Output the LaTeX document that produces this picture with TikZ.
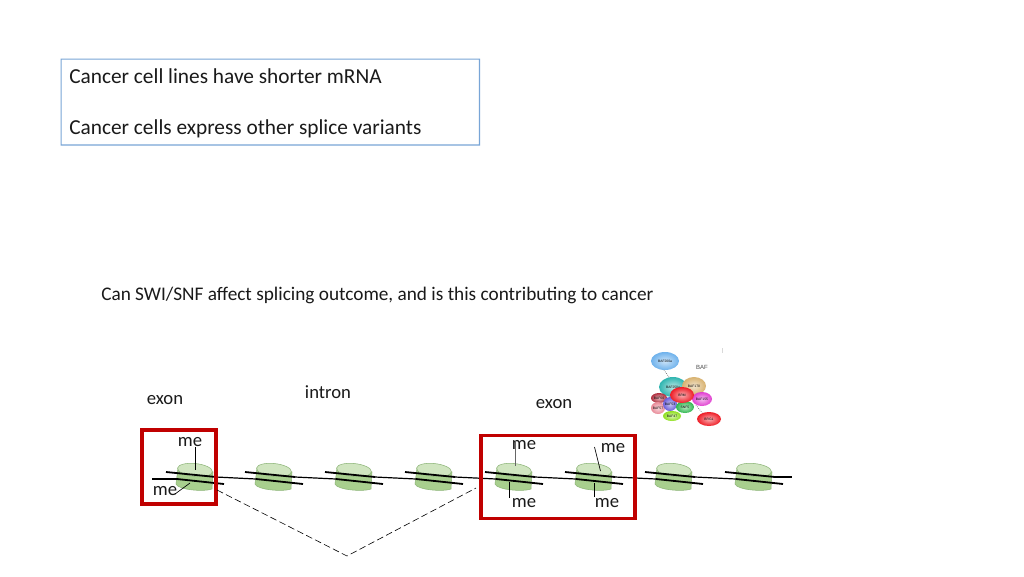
\documentclass[tikz,border=0pt]{standalone}
\usepackage{fontspec}
\setmainfont{Carlito}
\newfontfamily\tinyfont{Liberation Sans}
\usetikzlibrary{shapes.geometric}
\definecolor{framecol}{RGB}{120,165,215}
\definecolor{nucbody}{HTML}{A8CF8E}
\definecolor{nuctop}{HTML}{D0E5C0}
\definecolor{nucedge}{HTML}{8DB578}
\definecolor{boxred}{HTML}{C00000}
\definecolor{inktext}{HTML}{1A1A1A}
\definecolor{cb}{HTML}{6FB2EC}
\definecolor{cc}{HTML}{2FB5B0}
\definecolor{cd}{HTML}{D8B270}
\definecolor{ce}{HTML}{B03040}
\definecolor{cf}{HTML}{E88A98}
\definecolor{cg}{HTML}{6A5FD8}
\definecolor{ch}{HTML}{30B850}
\definecolor{ci}{HTML}{E040D0}
\definecolor{cj}{HTML}{90E020}
\definecolor{ck}{HTML}{EE1C25}
\tikzset{
  x=0.75pt,y=-0.75pt,
  txt/.style={inner sep=0pt,font=\fontsize{16}{18}\selectfont,text=inktext},
  me/.style={inner sep=0pt,font=\fontsize{14}{16}\selectfont,text=inktext},
  redbox/.style={draw=boxred,line width=2.3pt},
  strand/.style={draw=black,line width=1.35pt},
  linker/.style={draw=black,line width=0.9pt},
  tick/.style={draw=black,line width=0.5pt},
}
\newcommand{\bafnode}[7]{% name, x, y, rx, ry, colour, text
  \shade[inner color=#6!35!white,outer color=#6] (#2,#3) ellipse [x radius=#4, y radius=#5];
  \node[inner sep=0pt,font=\tinyfont\fontsize{2.5}{3}\selectfont] (#1) at (#2,#3) {#7};
}
\begin{document}
\begin{tikzpicture}
\useasboundingbox (0,0) rectangle (1024,576);
\fill[white] (0,0) rectangle (1024,576);

% top text box
\fill[framecol,even odd rule] (60.5,58.5) rectangle (480,145.5) (61.7,59.7) rectangle (478.8,144.3);
\node[rectangle,minimum width=313.5pt,minimum height=64.5pt,inner sep=0pt] (topbox) at (270,102) {};
\node[txt,anchor=base west] (t1) at (69,83) {Cancer cell lines have shorter mRNA};
\node[txt,anchor=base west] (t2) at (69,134) {Cancer cells express other splice variants};
\node[txt,anchor=base west,font=\fontsize{14.45}{16}\selectfont] (q) at (101,300) {Can SWI/SNF affect splicing outcome, and is this contributing to cancer};

% labels
\node[me,anchor=base] (ex1) at (165,404) {exon};
\node[me,anchor=base] (int) at (328,398) {intron};
\node[me,anchor=base] (ex2) at (554,408) {exon};

% nucleosomes
\foreach \n/\c in {1/195,2/274,3/354,4/434,5/514,6/594,7/674,8/754}{
  \begin{scope}[shift={(\c,0)}]
    \coordinate (up\n w) at (-29,472);
    \coordinate (up\n e) at (21,477);
    \coordinate (lo\n w) at (-18,479);
    \coordinate (lo\n e) at (29,484);
    \fill[nucbody,draw=nucedge,line width=0.4pt]
      (-17,468) -- (-19,484) .. controls (-17,490) and (10,492) .. (17,489)
      -- (18,472) -- cycle;
    \fill[nuctop,draw=nucedge,line width=0.4pt,rotate around={-6:(0,470)}]
      (0,470) ellipse [x radius=17.5, y radius=6.5];
  \end{scope}
}
% DNA
\coordinate (startdna) at (152,479);
\coordinate (enddna) at (792,477);
\foreach \n in {1,...,8}{
  \draw[strand] (up\n w) -- (up\n e);
  \draw[strand] (lo\n w) -- (lo\n e);
}
\draw[linker] (startdna) -- (lo1w);
\foreach \a/\b in {1/2,2/3,3/4,4/5,5/6,6/7,7/8}{
  \draw[linker] (up\a e) -- (lo\b w);
}
\draw[linker] (up8e) -- (enddna);

% red boxes
\node[redbox,minimum width=55.5pt,minimum height=55.5pt,inner sep=0pt] (rb1) at (179,467) {};
\node[redbox,minimum width=115.5pt,minimum height=62.5pt,inner sep=0pt] (rb2) at (558,477) {};

% me labels
\node[me,anchor=base] (m1) at (190,446) {me};
\node[me,anchor=base] (m2) at (165,495) {me};
\node[me,anchor=base] (m3) at (524,449) {me};
\node[me,anchor=base] (m4) at (613,452) {me};
\node[me,anchor=base] (m5) at (524,507) {me};
\node[me,anchor=base] (m6) at (607,507) {me};
\coordinate (m1a) at (195.5,447);
\coordinate (m2a) at (175,494);
\coordinate (m3a) at (515.5,441);
\coordinate (m4a) at (594.5,447);
\coordinate (m5a) at (509.5,498);
\coordinate (m6a) at (594,497);
\draw[tick] (m1a) -- (195.5,470);
\draw[tick] (m2a) -- (190,483);
\draw[tick,draw=black!60,line width=0.8pt] (m3a) -- (515.5,466);
\draw[tick] (m4a) -- (600.5,471);
\draw[tick] (m5a) -- (509.5,482);
\draw[tick] (m6a) -- (594,483);

% dashed V
\coordinate (vl) at (217,490);
\coordinate (vb) at (347,556);
\coordinate (vr) at (476,488);
\draw[black,line width=0.45pt,dash pattern=on 5pt off 2.5pt] (vl) -- (vb) -- (vr);

% BAF complex
\draw[densely dotted,black!60,line width=0.5pt] (664,370) -- (671,380);
\draw[densely dotted,black!60,line width=0.5pt] (696,405) -- (703,414);
\bafnode{b1}{665}{361}{14}{9}{cb}{BAF200a}
\bafnode{b2}{673}{387}{14}{10}{cc}{BAF250a}
\bafnode{b3}{694}{386}{12}{9}{cd}{BAF170}
\bafnode{b4}{659}{398}{8}{5}{ce}{BAF60}
\bafnode{b5}{658}{408}{7}{6}{cf}{BAF57}
\bafnode{b6}{670}{404}{7}{7}{cg}{BAF53}
\bafnode{b7}{685}{407}{9}{6}{ch}{SNF5}
\bafnode{b8}{702}{399}{10}{7}{ci}{BAF155}
\bafnode{b9}{672}{416}{9}{5}{cj}{BAF47}
\bafnode{b10}{682}{395}{12}{8}{ck}{BRM}
\bafnode{b11}{709}{419}{12}{7}{ck}{BRG1}
\node[inner sep=0pt,font=\tinyfont\fontsize{4.5}{5}\selectfont,text=black!70] (baf) at (702,367) {BAF};
\draw[black!15,line width=0.5pt] (722,348) -- (722,353);
\end{tikzpicture}
\end{document}
